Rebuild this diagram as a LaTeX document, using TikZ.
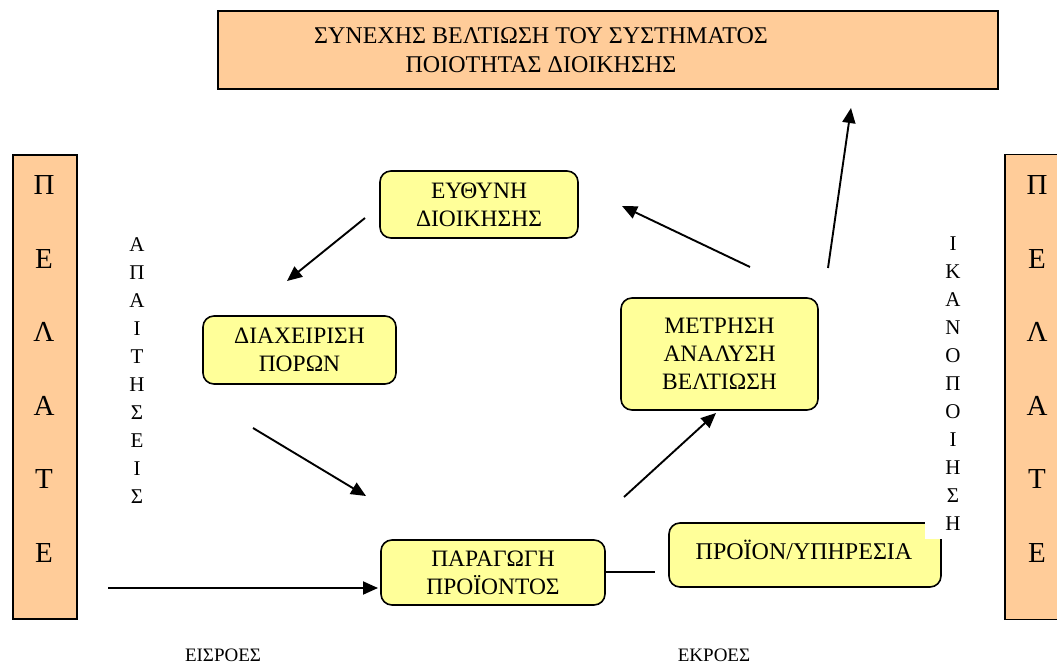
\documentclass[tikz,border=0pt]{standalone}
\usepackage{fontspec}
\setmainfont{Liberation Serif}
\usetikzlibrary{arrows.meta}
\definecolor{peach}{HTML}{FFCC99}
\definecolor{paleyellow}{HTML}{FFFF99}
\begin{document}
\begin{tikzpicture}[x=1pt,y=-1pt,
  stage/.style={draw=black, line width=1.6pt, fill=paleyellow, rounded corners=11pt,
    align=center, inner sep=0pt, font=\fontsize{23.5}{28}\selectfont},
  client/.style={draw=black, line width=1.6pt, fill=peach, inner sep=0pt},
  vtext/.style={align=center, inner sep=0pt, font=\fontsize{21}{28}\selectfont},
  flow/.style={line width=1.9pt, -{Triangle[length=15pt,width=13pt]}},
  caption/.style={font=\fontsize{19}{22}\selectfont, inner sep=0pt}]
\useasboundingbox (0,0) rectangle (1057,671);

% continual improvement banner
\node[client, minimum width=780pt, minimum height=78pt] (goal) at (608,50) {};
\node[align=center, inner sep=0pt, font=\fontsize{24}{29.5}\selectfont] (goaltxt) at (541,50)
  {ΣΥΝΕΧΗΣ ΒΕΛΤΙΩΣΗ ΤΟΥ ΣΥΣΤΗΜΑΤΟΣ\\ΠΟΙΟΤΗΤΑΣ ΔΙΟΙΚΗΣΗΣ};

% customers on both sides
\node[client, minimum width=64pt, minimum height=464pt] (cl) at (45,387) {};
\node[client, minimum width=64pt, minimum height=465pt] (cr) at (1037,387) {};
\node[vtext, font=\fontsize{29}{73.6}\selectfont] (cltxt) at (44,369) {Π\\Ε\\Λ\\Α\\Τ\\Ε};
\node[vtext, font=\fontsize{29}{73.6}\selectfont] (crtxt) at (1037,369) {Π\\Ε\\Λ\\Α\\Τ\\Ε};

% process stages
\node[stage, minimum width=198pt, minimum height=67pt] (resp) at (479,204.5) {ΕΥΘΥΝΗ\\ΔΙΟΙΚΗΣΗΣ};
\node[stage, minimum width=193pt, minimum height=68pt] (res) at (299.5,350) {ΔΙΑΧΕΙΡΙΣΗ\\ΠΟΡΩΝ};
\node[stage, minimum width=197pt, minimum height=112pt] (meas) at (719.5,354) {ΜΕΤΡΗΣΗ\\ΑΝΑΛΥΣΗ\\ΒΕΛΤΙΩΣΗ};
\node[stage, minimum width=224pt, minimum height=65pt] (prod) at (493,572.5) {ΠΑΡΑΓΩΓΗ\\ΠΡΟΪΟΝΤΟΣ};
\node[stage, minimum width=272pt, minimum height=64pt] (out) at (805,555) {};
\node[inner sep=0pt, font=\fontsize{24}{28}\selectfont] (outtxt) at (804,550) {ΠΡΟΪΟΝ/ΥΠΗΡΕΣΙΑ};

% vertical labels (the right one sits on a white panel)
\node[vtext] (req) at (137,371) {Α\\Π\\Α\\Ι\\Τ\\Η\\Σ\\Ε\\Ι\\Σ};
\fill[white] (925,230) rectangle (983,539);
\node[vtext] (sat) at (953,384) {Ι\\Κ\\Α\\Ν\\Ο\\Π\\Ο\\Ι\\Η\\Σ\\Η};

% arrow end points
\coordinate (inS) at (108,588);
\coordinate (inE) at (378,588);
\coordinate (a1S) at (365,218);
\coordinate (a1E) at (287,281);
\coordinate (a2S) at (253,428);
\coordinate (a2E) at (366,496);
\coordinate (a3S) at (624,497);
\coordinate (a3E) at (716,413);
\coordinate (a4S) at (750,267);
\coordinate (a4E) at (622,206);
\coordinate (a5S) at (828,268);
\coordinate (a5E) at (851,108);
\coordinate (linkE) at (655,572);

\draw[flow] (inS) -- (inE);
\draw[flow] (a1S) -- (a1E);
\draw[flow] (a2S) -- (a2E);
\draw[flow] (a3S) -- (a3E);
\draw[flow] (a4S) -- (a4E);
\draw[flow] (a5S) -- (a5E);
\draw[line width=1.8pt] (prod.east |- linkE) -- (linkE);

% inputs and outputs
\node[caption] (inputs) at (223,655) {ΕΙΣΡΟΕΣ};
\node[caption] (outputs) at (714,655) {ΕΚΡΟΕΣ};
\end{tikzpicture}
\end{document}
